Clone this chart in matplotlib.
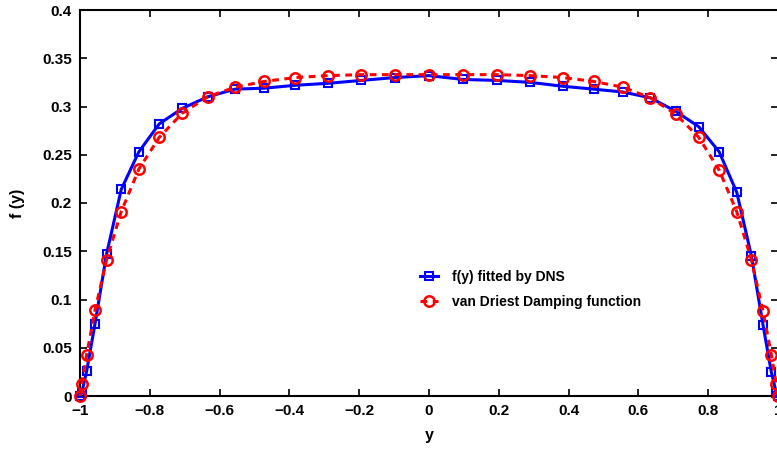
import matplotlib
matplotlib.use("Agg")
import matplotlib.pyplot as plt

plt.rcParams['font.family'] = ['Liberation Sans', 'DejaVu Sans']
plt.rcParams['font.weight'] = 'bold'

# wall-normal positions
y_pos = [-1.0, -0.9952, -0.9808, -0.9569, -0.9239, -0.8819, -0.8315, -0.7730,
         -0.7071, -0.6344, -0.5556, -0.4714, -0.3827, -0.2903, -0.1951, -0.0980,
         0.0, 0.0980, 0.1951, 0.2903, 0.3827, 0.4714, 0.5556, 0.6344,
         0.7071, 0.7730, 0.8315, 0.8819, 0.9239, 0.9569, 0.9808, 0.9952, 1.0]

f_dns = [0.0, 0.003, 0.026, 0.075, 0.147, 0.214, 0.253, 0.282,
         0.298, 0.310, 0.318, 0.319, 0.322, 0.324, 0.327, 0.330,
         0.332, 0.328, 0.327, 0.325, 0.321, 0.318, 0.315, 0.309,
         0.295, 0.279, 0.253, 0.211, 0.145, 0.074, 0.025, 0.003, 0.0]

f_vd = [0.0, 0.012, 0.043, 0.089, 0.141, 0.191, 0.235, 0.268,
        0.293, 0.310, 0.320, 0.326, 0.330, 0.332, 0.333, 0.333,
        0.333, 0.333, 0.333, 0.332, 0.330, 0.326, 0.320, 0.309,
        0.292, 0.268, 0.234, 0.191, 0.141, 0.088, 0.043, 0.012, 0.0]

x_ticks = [-1, -0.8, -0.6, -0.4, -0.2, 0, 0.2, 0.4, 0.6, 0.8, 1]
x_tick_labels = ['\u22121', '\u22120.8', '\u22120.6', '\u22120.4', '\u22120.2', '0',
                 '0.2', '0.4', '0.6', '0.8', '1']
y_ticks = [0, 0.05, 0.1, 0.15, 0.2, 0.25, 0.3, 0.35, 0.4]
y_tick_labels = ['0', '0.05', '0.1', '0.15', '0.2', '0.25', '0.3', '0.35', '0.4']

fig = plt.figure(figsize=(7.77, 4.5), dpi=100)
ax = fig.add_axes([80/777, 1 - 396/450, 698/777, 386/450])

ax.plot(y_pos, f_dns, color='#0000ff', lw=2.2, ls='-', marker='s', ms=5.5,
        mfc='none', mec='#0000ff', mew=1.5, clip_on=False, zorder=3,
        label='f(y) fitted by DNS')
ax.plot(y_pos, f_vd, color='#ff0000', lw=2.2, ls=(0, (2.2, 1.8)), marker='o', ms=7.5,
        mfc='none', mec='#ff0000', mew=1.8, clip_on=False, zorder=4,
        label='van Driest Damping function')

ax.set_xlim(-1, 1)
ax.set_ylim(0, 0.4)
ax.set_xticks(x_ticks)
ax.set_xticklabels(x_tick_labels)
ax.set_yticks(y_ticks)
ax.set_yticklabels(y_tick_labels)
ax.tick_params(direction='in', length=5, width=1.2, top=True, right=True,
               labelsize=11, pad=6)
for s in ax.spines.values():
    s.set_linewidth(1.5)

ax.set_xlabel('y', fontsize=11.5, fontweight='bold', labelpad=7)
ax.set_ylabel('f (y)', fontsize=11.5, fontweight='bold', labelpad=12)

leg = ax.legend(loc='center left', bbox_to_anchor=(420/777, 1 - 289.5/450),
                bbox_transform=fig.transFigure, frameon=False, borderaxespad=0,
                borderpad=0, handlelength=1.3, handletextpad=1.0, labelspacing=0.8,
                numpoints=1, prop={'size': 10, 'weight': 'bold'})

fig.savefig('out.png', dpi=100)
